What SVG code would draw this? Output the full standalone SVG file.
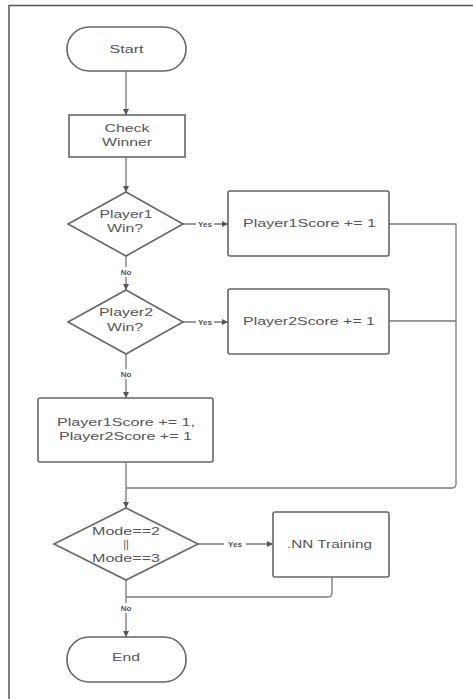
<svg xmlns="http://www.w3.org/2000/svg" width="473" height="699" viewBox="0 0 473 699">
<defs>
<marker id="ah" markerWidth="8" markerHeight="8" refX="7" refY="4" orient="auto" markerUnits="userSpaceOnUse">
<path d="M1,1 L7,4 L1,7 Z" fill="#555"/>
</marker>
<style>
.shape{fill:#fff;stroke:#666;stroke-width:1.6}
.t{font-family:"Liberation Sans",Arial,sans-serif;font-size:11px;fill:#555;text-anchor:middle}
.c{fill:none;stroke:#777;stroke-width:1.3}
.lbl{font-family:"Liberation Sans",Arial,sans-serif;font-size:8px;font-weight:bold;fill:#555;text-anchor:middle}
.frame{fill:none;stroke:#555;stroke-width:1.5}
</style>
</defs>
<rect width="473" height="699" fill="#fff"/>
<path class="frame" d="M9,699 L9,5.5 L473,5.5"/>

<g id="connectors">
<line class="c" x1="126" y1="71" x2="126" y2="115" marker-end="url(#ah)"/>
<line class="c" x1="126" y1="157" x2="126" y2="192" marker-end="url(#ah)"/>
<line class="c" x1="183" y1="224" x2="228" y2="224" marker-end="url(#ah)"/>
<rect x="196" y="219" width="18" height="10" fill="#fff"/>
<text class="lbl" x="205" y="227">Yes</text>
<line class="c" x1="126" y1="256" x2="126" y2="290" marker-end="url(#ah)"/>
<rect x="118" y="267" width="16" height="10" fill="#fff"/>
<text class="lbl" x="126" y="275">No</text>
<line class="c" x1="183" y1="322" x2="228" y2="322" marker-end="url(#ah)"/>
<rect x="196" y="317" width="18" height="10" fill="#fff"/>
<text class="lbl" x="205" y="325">Yes</text>
<line class="c" x1="126" y1="354" x2="126" y2="398" marker-end="url(#ah)"/>
<rect x="118" y="369" width="16" height="10" fill="#fff"/>
<text class="lbl" x="126" y="377">No</text>
<path class="c" d="M389,224 L456,224 L456,484 Q456,488 452,488 L126,488"/>
<line class="c" x1="389" y1="321" x2="456" y2="321"/>
<line class="c" x1="126" y1="462" x2="126" y2="508" marker-end="url(#ah)"/>
<line class="c" x1="198" y1="544" x2="273" y2="544" marker-end="url(#ah)"/>
<rect x="224" y="539" width="22" height="10" fill="#fff"/>
<text class="lbl" x="235" y="547" font-weight="normal">Yes</text>
<path class="c" d="M332,577 L332,593 Q332,597 328,597 L126,597"/>
<line class="c" x1="126" y1="580" x2="126" y2="637" marker-end="url(#ah)"/>
<rect x="118" y="603" width="16" height="10" fill="#fff"/>
<text class="lbl" x="126" y="611">No</text>
</g>

<g id="start">
<rect class="shape" x="67" y="27" width="119" height="44" rx="22"/>
<text class="t" x="126.5" y="53" textLength="34" lengthAdjust="spacingAndGlyphs">Start</text>
</g>
<g id="check-winner">
<rect class="shape" x="69" y="115" width="116" height="42"/>
<text class="t" x="127" y="132" textLength="45" lengthAdjust="spacingAndGlyphs">Check</text>
<text class="t" x="127" y="146" textLength="50" lengthAdjust="spacingAndGlyphs">Winner</text>
</g>
<g id="player1-win">
<polygon class="shape" points="126,192 183,224 126,256 68,224"/>
<text class="t" x="126" y="218" textLength="53" lengthAdjust="spacingAndGlyphs">Player1</text>
<text class="t" x="125" y="232" textLength="36" lengthAdjust="spacingAndGlyphs">Win?</text>
</g>
<g id="player1-score">
<rect class="shape" x="228" y="191" width="161" height="65" rx="2"/>
<text class="t" x="309.5" y="227" textLength="133" lengthAdjust="spacingAndGlyphs">Player1Score += 1</text>
</g>
<g id="player2-win">
<polygon class="shape" points="126,290 183,322 126,354 68,322"/>
<text class="t" x="126" y="316" textLength="54" lengthAdjust="spacingAndGlyphs">Player2</text>
<text class="t" x="125" y="331" textLength="36" lengthAdjust="spacingAndGlyphs">Win?</text>
</g>
<g id="player2-score">
<rect class="shape" x="228" y="289" width="161" height="65" rx="2"/>
<text class="t" x="309" y="325" textLength="132" lengthAdjust="spacingAndGlyphs">Player2Score += 1</text>
</g>
<g id="both-score">
<rect class="shape" x="38" y="398" width="175" height="64" rx="2"/>
<text class="t" x="126" y="426" textLength="138" lengthAdjust="spacingAndGlyphs">Player1Score += 1,</text>
<text class="t" x="125.5" y="440" textLength="133" lengthAdjust="spacingAndGlyphs">Player2Score += 1</text>
</g>
<g id="mode-check">
<polygon class="shape" points="126,508 198,544 126,580 54,544"/>
<text class="t" x="126" y="535" textLength="68" lengthAdjust="spacingAndGlyphs">Mode==2</text>
<text class="t" x="126" y="548">||</text>
<text class="t" x="126" y="562" textLength="68" lengthAdjust="spacingAndGlyphs">Mode==3</text>
</g>
<g id="nn-training">
<rect class="shape" x="273" y="512" width="116" height="65" rx="2"/>
<text class="t" x="329.5" y="548" textLength="85" lengthAdjust="spacingAndGlyphs">.NN Training</text>
</g>
<g id="end">
<rect class="shape" x="67" y="637" width="119" height="45" rx="22"/>
<text class="t" x="126" y="661" textLength="28" lengthAdjust="spacingAndGlyphs">End</text>
</g>
</svg>
